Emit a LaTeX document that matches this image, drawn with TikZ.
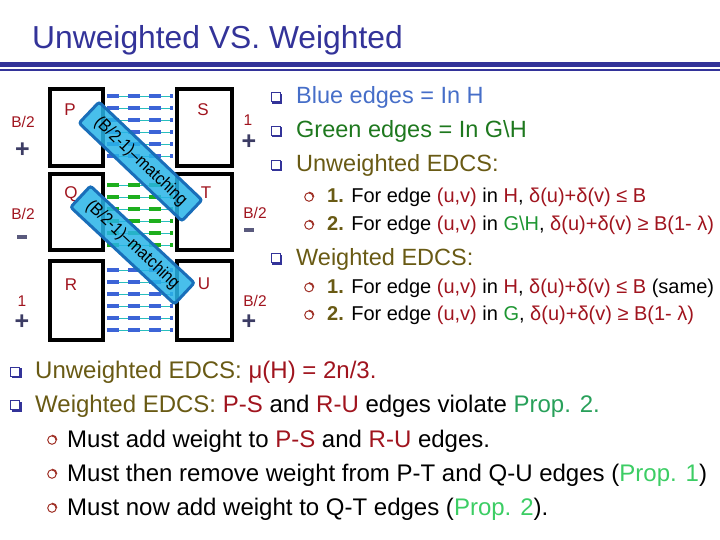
\documentclass[tikz,border=0pt]{standalone}
\usepackage{fontspec}
\setmainfont{Liberation Sans}
\definecolor{navy}{RGB}{51,51,153}
\definecolor{dred}{RGB}{160,20,30}
\definecolor{olivec}{RGB}{105,90,20}
\definecolor{bblue}{RGB}{70,110,200}
\definecolor{dgreen}{RGB}{30,120,30}
\definecolor{mgreen}{RGB}{30,150,50}
\definecolor{tgreen}{RGB}{40,160,90}
\definecolor{lgreen}{RGB}{60,205,100}
\definecolor{edgeblue}{RGB}{60,100,215}
\definecolor{edgegreen}{RGB}{30,175,30}
\definecolor{tealc}{RGB}{40,190,190}
\definecolor{bandfill}{RGB}{40,180,232}
\definecolor{bandedge}{RGB}{25,110,185}
\definecolor{signc}{RGB}{60,60,100}
\definecolor{minusc}{RGB}{90,90,125}
\definecolor{cbulc}{RGB}{160,50,40}
\newcommand{\fs}[1]{\fontsize{#1}{#1}\selectfont}
\newcommand{\bandtext}{\scalebox{0.9}[1]{(B/2-1)–matching}}
\begin{document}
\begin{tikzpicture}[x=1pt,y=-1pt,
  txt/.style={anchor=base west, inner sep=0pt},
  lbl/.style={inner sep=0pt, text=dred, font=\fs{17}},
  slbl/.style={inner sep=0pt, text=dred, font=\fs{15.5}},
  sign/.style={inner sep=0pt, text=signc, font=\bfseries\fs{25}},
  minus/.style={inner sep=0pt, fill=minusc, minimum width=10pt, minimum height=4pt},
  box/.style={draw=black, line width=4pt, minimum height=77pt, inner sep=0pt},
  thinedge/.style={tealc, line width=0.8pt, shorten <=2pt, shorten >=2pt},
  bdash/.style={edgeblue, line width=3.5pt, dash pattern=on 12pt off 9pt, shorten <=2pt, shorten >=2pt},
  gdash/.style={edgegreen, line width=3.5pt, dash pattern=on 12pt off 9pt, shorten <=2pt, shorten >=2pt},
  band/.style={draw=bandedge, line width=3pt, fill=bandfill, fill opacity=0.85, text opacity=1,
    rounded corners=2.5pt, minimum width=142pt, minimum height=29pt, inner sep=0pt, font=\fs{17.5}},
  sqb/.pic={\draw[navy, line width=1pt, fill=white] (-5,-5) rectangle (4,4);
            \draw[navy, line width=2pt] (-4,5) -- (5,5) -- (5,-4);},
  cb/.pic={\draw[cbulc, line width=1pt] (0,0) circle (4.3);
           \draw[cbulc, line width=1.8pt] (4.5,0) arc (0:-90:4.5);}
]
\useasboundingbox (0,0) rectangle (720,540);
% title
\node[txt, text=navy, font=\fs{31.8}] (title) at (32,49) {Unweighted VS. Weighted};
\fill[navy] (0,62.5) rectangle (720,67.3);
\draw[navy, line width=1.3pt] (0,70) -- (720,70);

% boxes
\node[box, minimum width=53pt] (P) at (76.5,127.5) {};
\node[box, minimum width=55pt] (S) at (204.5,127.5) {};
\node[box, minimum width=53pt, minimum height=76pt] (Q) at (76.5,212) {};
\node[box, minimum width=55pt, minimum height=76pt] (T) at (204.5,212) {};
\node[box, minimum width=53pt, minimum height=79pt] (R) at (76.5,300.5) {};
\node[box, minimum width=55pt, minimum height=79pt] (U) at (204.5,300.5) {};

% edges
\foreach \yy in {96,108,120,132,144,156} {
  \draw[thinedge] (P.east |- 0,\yy) -- (S.west |- 0,\yy);
  \draw[bdash] (P.east |- 0,\yy) -- (S.west |- 0,\yy);
}
\foreach \yy in {185,197,209,221,233,245} {
  \draw[thinedge] (Q.east |- 0,\yy) -- (T.west |- 0,\yy);
  \draw[gdash] (Q.east |- 0,\yy) -- (T.west |- 0,\yy);
}
\foreach \yy in {270,282,294,306,318,330} {
  \draw[thinedge] (R.east |- 0,\yy) -- (U.west |- 0,\yy);
  \draw[bdash] (R.east |- 0,\yy) -- (U.west |- 0,\yy);
}

% box labels
\node[lbl] (lP) at (70,109.5) {P};
\node[lbl] (lS) at (203,109.5) {S};
\node[lbl] (lQ) at (71,194) {Q};
\node[lbl] (lT) at (206,192.5) {T};
\node[lbl] (lR) at (71,284.5) {R};
\node[lbl] (lU) at (204,283.5) {U};

% matching bands
\node[band, rotate=-43.6] (m1) at (140.5,161.5) {\bandtext};
\node[band, rotate=-43] (m2) at (132.5,245) {\bandtext};

% side labels
\node[slbl] (a1) at (23,122) {B/2};
\node[sign] (a2) at (22.5,150) {+};
\node[slbl] (a3) at (23,214) {B/2};
\node[minus] (a4) at (22,237) {};
\node[slbl] (a5) at (22,301) {1};
\node[sign] (a6) at (22,322) {+};
\node[slbl] (b1) at (248,120) {1};
\node[sign] (b2) at (249,142.5) {+};
\node[slbl] (b3) at (255,213) {B/2};
\node[minus] (b4) at (249,230) {};
\node[slbl] (b5) at (255,301) {B/2};
\node[sign] (b6) at (249,322) {+};

% right column
\pic at (276,98) {sqb};
\node[txt, font=\fs{23.5}, text=bblue] (r1) at (296,104) {Blue edges = In H};
\pic at (276,131.5) {sqb};
\node[txt, font=\fs{23.5}, text=dgreen] (r2) at (296,137.5) {Green edges = In G\textbackslash H};
\pic at (276,165.5) {sqb};
\node[txt, font=\fs{23.5}, text=olivec] (r3) at (296,172) {Unweighted EDCS:};
\pic at (309,197) {cb};
\node[txt, font=\fs{20}] (r4) at (327,202.5) {\textcolor{olivec}{\bfseries 1.} For edge \textcolor{dred}{(u,v)} in \textcolor{dred}{H}, \textcolor{dred}{δ(u)+δ(v) ≤ B}};
\pic at (309,225) {cb};
\node[txt, font=\fs{20}] (r5) at (327,230) {\textcolor{olivec}{\bfseries 2.} For edge \textcolor{dred}{(u,v)} in \textcolor{mgreen}{G\textbackslash H}, \textcolor{dred}{δ(u)+δ(v) ≥ B(1- λ)}};
\pic at (276,258.5) {sqb};
\node[txt, font=\fs{23.5}, text=olivec] (r6) at (296,265) {Weighted EDCS:};
\pic at (309,287.5) {cb};
\node[txt, font=\fs{20}] (r7) at (327,293) {\textcolor{olivec}{\bfseries 1.} For edge \textcolor{dred}{(u,v)} in \textcolor{dred}{H}, \textcolor{dred}{δ(u)+δ(v) ≤ B} (same)};
\pic at (309,315) {cb};
\node[txt, font=\fs{20}] (r8) at (327,320) {\textcolor{olivec}{\bfseries 2.} For edge \textcolor{dred}{(u,v)} in \textcolor{mgreen}{G}, \textcolor{dred}{δ(u)+δ(v) ≥ B(1- λ)}};

% bottom
\pic at (15.5,372) {sqb};
\node[txt, font=\fs{24}] (s1) at (35,378) {\textcolor{olivec}{Unweighted EDCS:} \textcolor{dred}{μ(H) = 2n/3.}};
\pic at (15.5,405.5) {sqb};
\node[txt, font=\fs{24}] (s2) at (35,412) {\textcolor{olivec}{Weighted EDCS:} \textcolor{dred}{P-S} and \textcolor{dred}{R-U} edges violate \textcolor{tgreen}{Prop. 2.}};
\pic at (52,440) {cb};
\node[txt, font=\fs{24}] (s3) at (67,447) {Must add weight to \textcolor{dred}{P-S} and \textcolor{dred}{R-U} edges.};
\pic at (52,474) {cb};
\node[txt, font=\fs{24}] (s4) at (67,481) {Must then remove weight from P-T and Q-U edges (\textcolor{lgreen}{Prop. 1})};
\pic at (52,508) {cb};
\node[txt, font=\fs{24}] (s5) at (67,515) {Must now add weight to Q-T edges (\textcolor{lgreen}{Prop. 2}).};
\end{tikzpicture}
\end{document}
